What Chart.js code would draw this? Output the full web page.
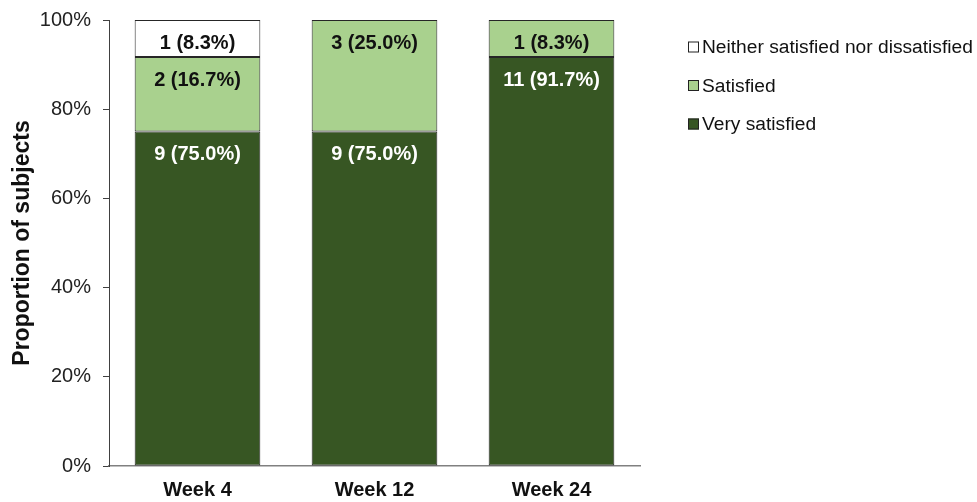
<!DOCTYPE html>
<html>
<head>
<meta charset="utf-8">
<script src="https://cdn.jsdelivr.net/npm/chart.js@4/dist/chart.umd.min.js"></script>
<style>
  html, body { margin: 0; padding: 0; background: #fff; }
  #wrap { width: 977px; height: 502px; }
</style>
</head>
<body>
<div id="wrap"><canvas id="satisfactionChart"></canvas></div>
<script>
var weeks = ['Week 4', 'Week 12', 'Week 24'];
var yTicks = ['0%', '20%', '40%', '60%', '80%', '100%'];

// subjects per response, and share of the 12 subjects (%)
var veryCounts = [9, 9, 11];
var veryPct = [75.0, 75.0, 91.7];
var satCounts = [2, 3, 1];
var satPct = [16.7, 25.0, 8.3];
var neitherCounts = [1, 0, 0];
var neitherPct = [8.3, 0, 0];

var FONT = '"Liberation Sans", Arial, sans-serif';

// "n (x.x%)" text near the top of each stacked segment
var segmentLabels = {
    id: 'segmentLabels',
    afterDatasetsDraw(chart) {
        var ctx = chart.ctx;
        ctx.save();
        ctx.font = 'bold 20px ' + FONT;
        ctx.textAlign = 'center';
        ctx.textBaseline = 'middle';
        chart.data.datasets.forEach((ds, i) => {
            var meta = chart.getDatasetMeta(i);
            meta.data.forEach((bar, j) => {
                var n = ds.counts[j];
                if (!n) return;
                ctx.fillStyle = ds.labelColor;
                ctx.fillText(n + ' (' + ds.data[j].toFixed(1) + '%)', bar.x, bar.y + 23);
            });
        });
        ctx.restore();
    }
};

// legend on the right, listed top of stack first
var sideLegend = {
    id: 'sideLegend',
    afterDraw(chart) {
        var ctx = chart.ctx;
        var x = 688, y = 47, step = 38.5;
        ctx.save();
        ctx.font = '19.2px ' + FONT;
        ctx.textBaseline = 'middle';
        ctx.textAlign = 'left';
        chart.data.datasets.slice().reverse().forEach((ds, k) => {
            var cy = y + k * step;
            ctx.fillStyle = ds.backgroundColor;
            ctx.fillRect(x, cy - 5.5, 11, 11);
            ctx.strokeStyle = '#222';
            ctx.lineWidth = 1;
            ctx.strokeRect(x + 0.5, cy - 5.5 + 0.5, 10, 10);
            ctx.fillStyle = '#111';
            ctx.fillText(ds.label, x + 14, cy + 1);
        });
        ctx.restore();
    }
};

new Chart('satisfactionChart', {
    type: 'bar',
    data: {
        labels: weeks,
        datasets: [{
            label: 'Very satisfied',
            data: veryPct,
            counts: veryCounts,
            backgroundColor: '#375623',
            labelColor: '#ffffff'
        }, {
            label: 'Satisfied',
            data: satPct,
            counts: satCounts,
            backgroundColor: '#a9d18e',
            labelColor: '#111111'
        }, {
            label: 'Neither satisfied nor dissatisfied',
            data: neitherPct,
            counts: neitherCounts,
            backgroundColor: '#ffffff',
            labelColor: '#111111'
        }].map(ds => Object.assign(ds, {
            borderColor: '#262626',
            borderWidth: 1,
            borderSkipped: false,
            barPercentage: 0.71,
            categoryPercentage: 1
        }))
    },
    options: {
        responsive: true,
        maintainAspectRatio: false,
        animation: false,
        layout: { padding: { left: 6, right: 337, top: 2, bottom: 0 } },
        plugins: {
            legend: { display: false },
            tooltip: { enabled: false }
        },
        scales: {
            x: {
                stacked: true,
                grid: { display: false },
                border: { color: '#808080', width: 1.5 },
                ticks: {
                    color: '#111',
                    font: { family: FONT, size: 20, weight: 'bold' },
                    padding: 4
                },
                afterFit(scale) { scale.height = 36; }
            },
            y: {
                stacked: true,
                min: 0,
                max: 100,
                grid: {
                    drawOnChartArea: false,
                    drawTicks: true,
                    tickLength: 6,
                    color: '#404040'
                },
                border: { color: '#404040', width: 1 },
                ticks: {
                    stepSize: 20,
                    padding: 12,
                    color: '#222',
                    font: { family: FONT, size: 20, lineHeight: 0.8 },
                    callback: (v, i) => yTicks[i]
                },
                title: {
                    display: true,
                    text: 'Proportion of subjects',
                    color: '#111',
                    font: { family: FONT, size: 23, weight: 'bold' },
                    padding: { top: 3, bottom: 3 }
                },
                afterFit(scale) { scale.width = 103; }
            }
        }
    },
    plugins: [segmentLabels, sideLegend]
});
</script>
</body>
</html>
